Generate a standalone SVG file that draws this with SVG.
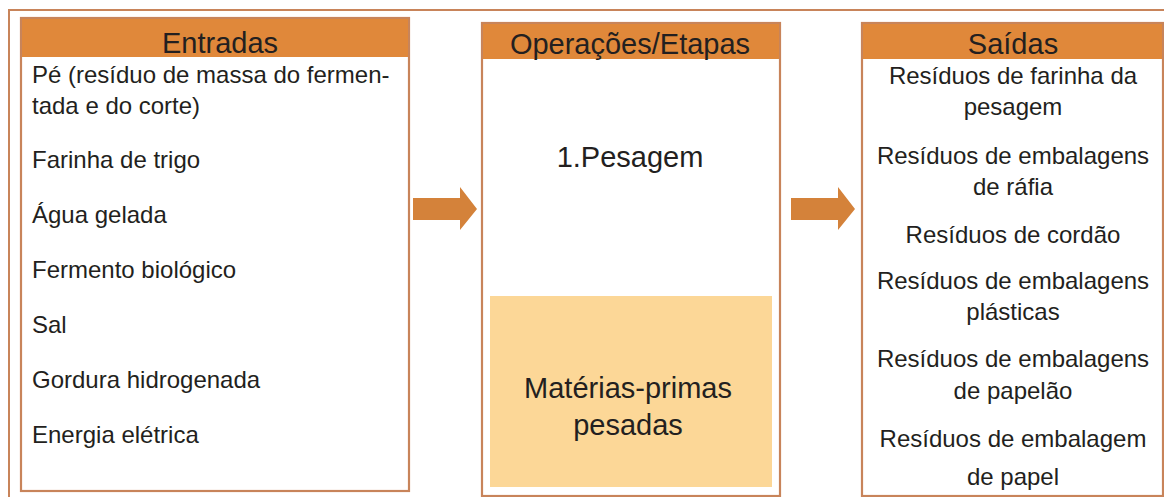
<svg xmlns="http://www.w3.org/2000/svg" width="1164" height="497" viewBox="0 0 1164 497">
<style>
.frame{fill:none;stroke:#c8845a;stroke-width:2}
.box{fill:#fff;stroke:#c8845a;stroke-width:2.2}
.hdr{fill:#e0883a}
.t{font-family:"Liberation Sans",Arial,sans-serif;fill:#231f20}
.h{font-size:29px;text-anchor:middle}
.b{font-size:24px}
.c{text-anchor:middle}
.big{font-size:29px;text-anchor:middle}
.arr{fill:#d4823a}
</style>
<rect width="1164" height="497" fill="#fff"/>
<path class="frame" d="M9,497 V10 H1164"/>
<g id="entradas">
<rect class="box" x="21" y="18" width="388" height="473"/>
<rect class="hdr" x="22" y="19" width="386" height="38"/>
<text class="t h" x="220" y="53">Entradas</text>
<text class="t b" x="32" y="83">Pé (resíduo de massa do fermen-</text>
<text class="t b" x="32" y="114">tada e do corte)</text>
<text class="t b" x="32" y="168">Farinha de trigo</text>
<text class="t b" x="32" y="223">Água gelada</text>
<text class="t b" x="32" y="278">Fermento biológico</text>
<text class="t b" x="32" y="333">Sal</text>
<text class="t b" x="32" y="388">Gordura hidrogenada</text>
<text class="t b" x="32" y="443">Energia elétrica</text>
</g>
<g id="operacoes">
<rect class="box" x="482" y="23" width="298" height="473"/>
<rect class="hdr" x="483" y="24" width="296" height="35"/>
<text class="t h" x="630" y="54">Operações/Etapas</text>
<text class="t big" x="630" y="167">1.Pesagem</text>
</g>
<g id="materias">
<rect x="490" y="296" width="282" height="191" fill="#fcd797"/>
<text class="t big" x="628" y="398">Matérias-primas</text>
<text class="t big" x="628" y="435">pesadas</text>
</g>
<g id="saidas">
<rect class="box" x="862" y="23" width="301" height="473"/>
<rect class="hdr" x="863" y="24" width="299" height="35"/>
<text class="t h" x="1013" y="54">Saídas</text>
<text class="t b c" x="1013" y="84">Resíduos de farinha da</text>
<text class="t b c" x="1013" y="115">pesagem</text>
<text class="t b c" x="1013" y="164">Resíduos de embalagens</text>
<text class="t b c" x="1013" y="195">de ráfia</text>
<text class="t b c" x="1013" y="243">Resíduos de cordão</text>
<text class="t b c" x="1013" y="289">Resíduos de embalagens</text>
<text class="t b c" x="1013" y="320">plásticas</text>
<text class="t b c" x="1013" y="367">Resíduos de embalagens</text>
<text class="t b c" x="1013" y="399">de papelão</text>
<text class="t b c" x="1013" y="447">Resíduos de embalagem</text>
<text class="t b c" x="1013" y="485">de papel</text>
</g>
<g id="connectors">
<path class="arr" d="M413,198 H460 V187 L477,209 L460,230 V220 H413 Z"/>
<path class="arr" d="M791,198 H838 V187 L855,209 L838,230 V220 H791 Z"/>
</g>
</svg>
